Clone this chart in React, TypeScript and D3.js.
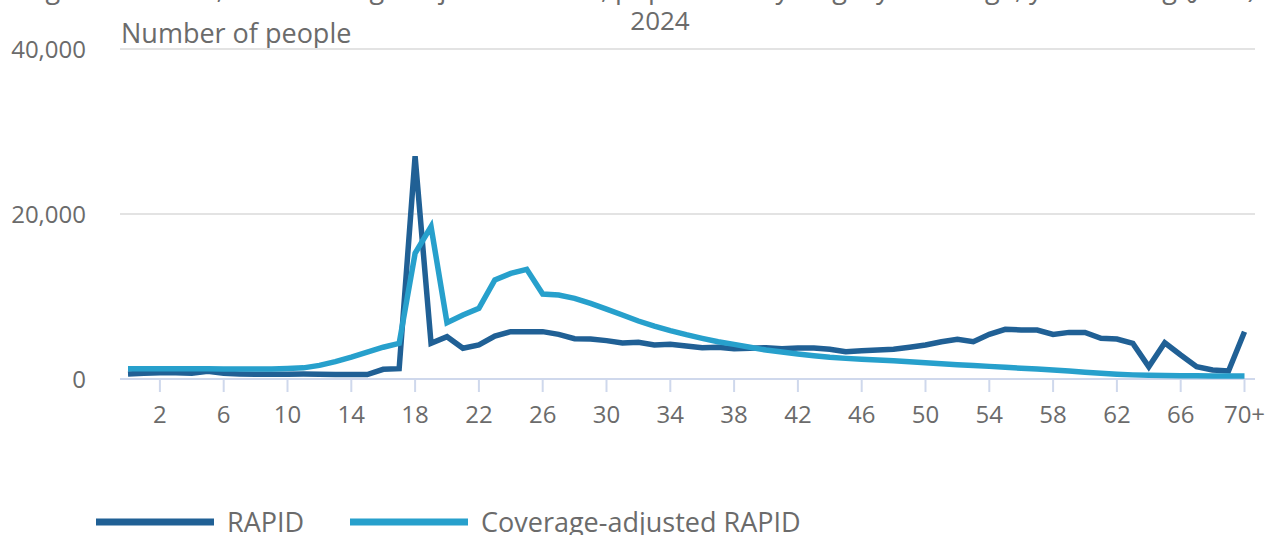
import React from "react";
import * as d3 from "d3";

const ages: string[] = [...Array.from({ length: 70 }, (_, i) => String(i)), "70+"];

const rapid: number[] = [
  600, 690, 750, 750, 700, 930, 700, 620, 580, 580,
  580, 600, 580, 560, 540, 540, 1170, 1250, 27000, 4320,
  5130, 3720, 4120, 5200, 5740, 5740, 5740, 5410, 4890, 4850,
  4650, 4360, 4440, 4120, 4200, 4000, 3800, 3840, 3680, 3720,
  3800, 3680, 3760, 3760, 3600, 3310, 3430, 3510, 3600, 3840,
  4120, 4520, 4810, 4520, 5410, 6020, 5940, 5940, 5410, 5650,
  5650, 4930, 4850, 4320, 1490, 4400, 2910, 1490, 1090, 970,
  5730,
];

const adjusted: number[] = [
  1250, 1250, 1250, 1250, 1240, 1230, 1220, 1210, 1210, 1220,
  1270, 1350, 1650, 2100, 2650, 3250, 3850, 4320, 15230, 18460,
  6830, 7760, 8570, 12000, 12800, 13290, 10300, 10180, 9780, 9170,
  8480, 7760, 7030, 6420, 5860, 5370, 4930, 4520, 4200, 3840,
  3510, 3270, 3030, 2830, 2640, 2500, 2400, 2300, 2200, 2080,
  1960, 1850, 1740, 1630, 1530, 1420, 1310, 1200, 1090, 960,
  830, 700, 580, 500, 450, 420, 400, 380, 370, 360,
  350,
];

const yTicks: number[] = [0, 20000, 40000];
const xTickAges: number[] = [2, 6, 10, 14, 18, 22, 26, 30, 34, 38, 42, 46, 50, 54, 58, 62, 66, 70];

const seriesNames: string[] = ["RAPID", "Coverage-adjusted RAPID"];
const seriesColors: string[] = ["#206095", "#27a0cc"];

const titleLine1 =
  "Figure 5: RAPID, and coverage-adjusted RAPID, population by single year of age, year ending (June)";
const titleLine2 = "2024";
const yAxisTitle = "Number of people";

export default function App() {
  const W = 1269;
  const H = 535;
  const left = 120;
  const right = 1255;
  const x = d3.scaleLinear().domain([0, 70]).range([128, 1244.5]);
  const y = d3.scaleLinear().domain([0, 40000]).range([379, 49]);
  const line = d3
    .line<number>()
    .x((_, i) => x(i))
    .y((d) => y(d));
  const font = "'Open Sans', sans-serif";
  const textColor = "#6b6b6b";
  const series = [rapid, adjusted];

  return (
    <svg
      width={W}
      height={H}
      style={{ position: "absolute", left: 0, top: 0, background: "#fff" }}
      fontFamily={font}
    >
      <text x={640} y={-2} textAnchor="middle" fontSize={27} fill={textColor}>
        {titleLine1}
      </text>
      <text x={660} y={30} textAnchor="middle" fontSize={26} fill={textColor}>
        {titleLine2}
      </text>
      <text x={121} y={43} fontSize={27} fill={textColor}>
        {yAxisTitle}
      </text>
      {yTicks.map((t) => (
        <g key={t}>
          {t !== 0 && (
            <line x1={left} x2={right} y1={y(t)} y2={y(t)} stroke="#e3e3e3" strokeWidth={2} />
          )}
          <text
            x={86}
            y={y(t) + 3}
            textAnchor="end"
            dominantBaseline="middle"
            fontSize={24}
            fill={textColor}
          >
            {d3.format(",")(t)}
          </text>
        </g>
      ))}
      <line x1={left} x2={right} y1={y(0)} y2={y(0)} stroke="#cfd8ec" strokeWidth={2} />
      {xTickAges.map((a) => (
        <g key={a}>
          <line x1={x(a)} x2={x(a)} y1={y(0)} y2={y(0) + 13} stroke="#cfd8ec" strokeWidth={2} />
          <text x={x(a)} y={423} textAnchor="middle" fontSize={24} fill={textColor}>
            {ages[a]}
          </text>
        </g>
      ))}
      {series.map((s, k) => (
        <path
          key={k}
          d={line(s) || ""}
          fill="none"
          stroke={seriesColors[k]}
          strokeWidth={5.5}
          strokeLinejoin="miter"
        />
      ))}
      {seriesNames.map((n, k) => {
        const lx = k === 0 ? 96 : 350;
        return (
          <g key={n}>
            <line x1={lx} x2={lx + 118} y1={522} y2={522} stroke={seriesColors[k]} strokeWidth={7} />
            <text x={lx + 131} y={532} fontSize={27} fill={textColor}>
              {n}
            </text>
          </g>
        );
      })}
    </svg>
  );
}
